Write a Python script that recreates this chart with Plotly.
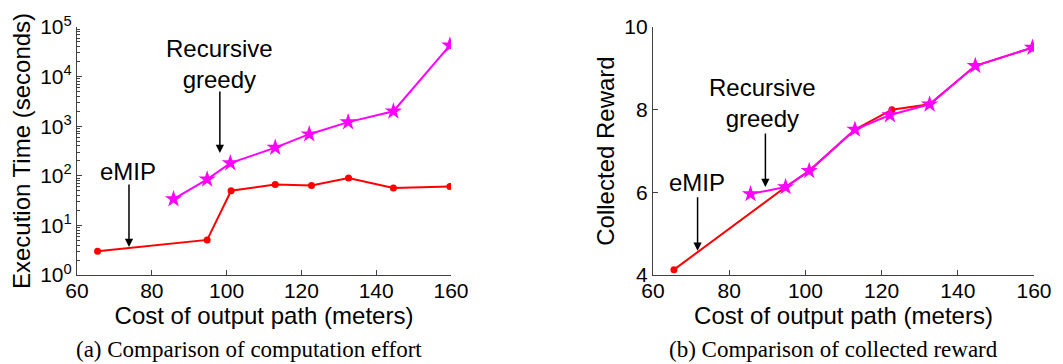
import numpy as np
import plotly.graph_objects as go

# Panel (a): execution time
emip_cost = [65.5, 94.8, 101.2, 113.0, 122.7, 132.6, 144.6, 159.7]
emip_time = [3.0, 5.1, 50, 67, 64, 90, 57, 61]
rg_cost = [85.8, 94.8, 101.0, 113.0, 122.1, 132.5, 144.6, 159.7]
rg_time = [34, 85, 180, 370, 690, 1210, 2000, 42700]

# Panel (b): collected reward
emip_reward_cost = [65.5, 94.8, 101.0, 113.0, 122.7, 132.6, 144.6, 159.6]
emip_reward = [4.13, 6.13, 6.52, 7.52, 8.0, 8.13, 9.06, 9.5]
rg_reward_cost = [85.6, 94.8, 101.0, 113.0, 122.2, 132.6, 144.6, 159.6]
rg_reward = [5.96, 6.13, 6.52, 7.52, 7.87, 8.13, 9.06, 9.5]

x_ticks = [60, 80, 100, 120, 140, 160]
log_tickvals = [1, 10, 100, 1000, 10000, 100000]
log_ticktext = ["10<sup>%d</sup>" % i for i in range(6)]
reward_ticks = [4, 6, 8, 10]

RED = "#ff0000"
MAG = "#ff00ff"
AX = "#404040"
FONT = "Liberation Sans, Arial, sans-serif"
SERIF = "Liberation Serif, Times New Roman, serif"

# the page body has an 8px margin, so the figure is placed at (8, 8) in the window
OFF = 8
W, H = 1063 - OFF, 364 - OFF
def px_x(p):
    return (p - OFF) / W
def px_y(p):
    return 1 - (p - OFF) / H

fig = go.Figure()

fig.add_trace(go.Scatter(x=emip_cost, y=emip_time, mode="lines+markers",
                         line=dict(color=RED, width=2), marker=dict(color=RED, size=7, symbol="circle"),
                         xaxis="x", yaxis="y", showlegend=False))
fig.add_trace(go.Scatter(x=rg_cost, y=rg_time, mode="lines+markers",
                         line=dict(color=MAG, width=2), marker=dict(color=MAG, size=13, symbol="star"),
                         xaxis="x", yaxis="y", showlegend=False))
fig.add_trace(go.Scatter(x=emip_reward_cost, y=emip_reward, mode="lines+markers",
                         line=dict(color=RED, width=2), marker=dict(color=RED, size=7, symbol="circle"),
                         xaxis="x2", yaxis="y2", showlegend=False))
fig.add_trace(go.Scatter(x=rg_reward_cost, y=rg_reward, mode="lines+markers",
                         line=dict(color=MAG, width=2), marker=dict(color=MAG, size=13, symbol="star"),
                         xaxis="x2", yaxis="y2", showlegend=False))

common_axis = dict(showgrid=False, zeroline=False, showline=True, linecolor=AX, linewidth=1.2,
                   ticks="inside", ticklen=5, tickcolor=AX, tickwidth=1, automargin=False,
                   tickfont=dict(family=FONT, size=21, color="black"), mirror=False)
title_font = dict(family=FONT, size=24, color="black")

ydom = [px_y(275), px_y(27)]
minor_log = [m * 10 ** k for k in range(5) for m in range(2, 10)]

fig.update_layout(
    width=W, height=H,
    margin=dict(l=0, r=0, t=0, b=0, autoexpand=False),
    paper_bgcolor="white", plot_bgcolor="white",
    xaxis=dict(domain=[px_x(77), px_x(451)], range=[60, 160], tickvals=x_ticks, anchor="y",
               ticklabelstandoff=-3,
               title=dict(text="Cost of output path (meters)", font=title_font, standoff=0),
               **common_axis),
    yaxis=dict(domain=ydom, type="log", range=[0, 5], tickvals=log_tickvals, ticktext=log_ticktext, anchor="x",
               minor=dict(ticks="inside", ticklen=3, tickcolor=AX, tickvals=minor_log),
               title=dict(text="Execution Time (seconds)", font=title_font, standoff=2),
               **common_axis),
    xaxis2=dict(domain=[px_x(653), px_x(1034)], range=[60, 160], tickvals=x_ticks, anchor="y2",
                ticklabelstandoff=-3,
                title=dict(text="Cost of output path (meters)", font=title_font, standoff=0),
                **common_axis),
    yaxis2=dict(domain=ydom, range=[4, 10], tickvals=reward_ticks, anchor="x2",
                title=dict(text="Collected Reward", font=title_font, standoff=2),
                **common_axis),
)

tfont = dict(family=FONT, size=24, color="black")
ann = []
ann.append(dict(x=73.7, y=np.log10(120), xref="x", yref="y", text="eMIP", showarrow=False, font=tfont))
ann.append(dict(x=73.9, y=np.log10(3.67), xref="x", yref="y", text="", showarrow=True, ax=0, ay=-64,
                arrowhead=2, arrowsize=1.1, arrowwidth=1.5, arrowcolor="black"))
ann.append(dict(x=98.2, y=np.log10(17800), xref="x", yref="y", text="Recursive<br>greedy", showarrow=False, font=tfont))
ann.append(dict(x=98.2, y=np.log10(288), xref="x", yref="y", text="", showarrow=True, ax=0, ay=-63,
                arrowhead=2, arrowsize=1.1, arrowwidth=1.5, arrowcolor="black"))
ann.append(dict(x=71.6, y=6.25, xref="x2", yref="y2", text="eMIP", showarrow=False, font=tfont))
ann.append(dict(x=71.7, y=4.585, xref="x2", yref="y2", text="", showarrow=True, ax=0, ay=-55,
                arrowhead=2, arrowsize=1.1, arrowwidth=1.5, arrowcolor="black"))
ann.append(dict(x=88.7, y=8.15, xref="x2", yref="y2", text="Recursive<br>greedy", showarrow=False, font=tfont))
ann.append(dict(x=89.5, y=6.13, xref="x2", yref="y2", text="", showarrow=True, ax=0, ay=-55,
                arrowhead=2, arrowsize=1.1, arrowwidth=1.5, arrowcolor="black"))
cfont = dict(family=SERIF, size=23, color="black")
ann.append(dict(x=px_x(249), y=px_y(349), xref="paper", yref="paper", text="(a) Comparison of computation effort",
                showarrow=False, font=cfont, xanchor="center", yanchor="middle"))
ann.append(dict(x=px_x(833), y=px_y(349), xref="paper", yref="paper", text="(b) Comparison of collected reward",
                showarrow=False, font=cfont, xanchor="center", yanchor="middle"))
fig.update_layout(annotations=ann)

fig.write_html("out.html")
